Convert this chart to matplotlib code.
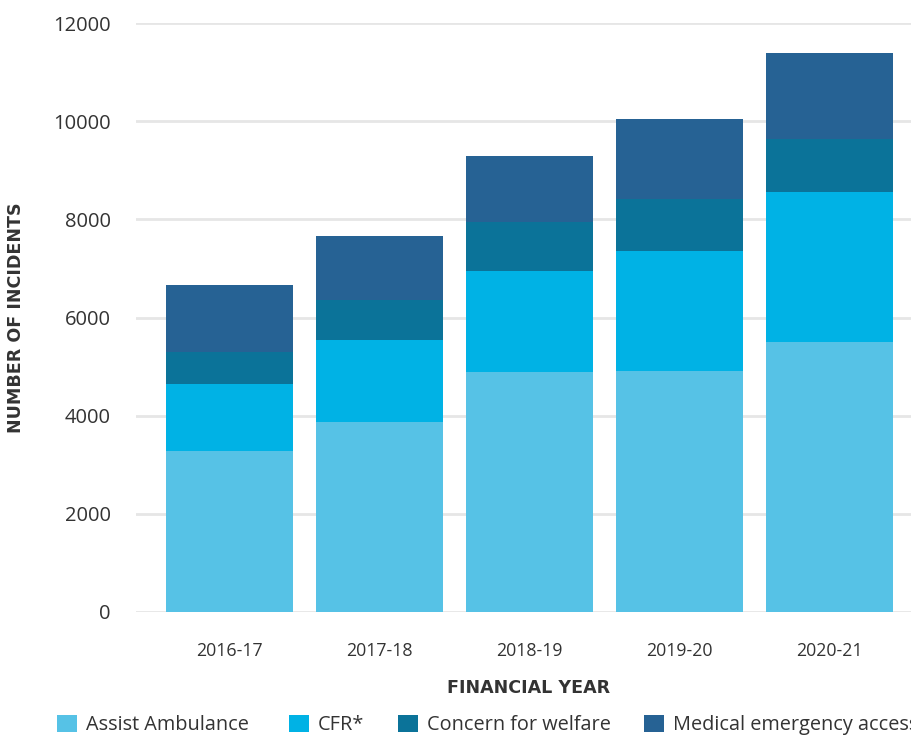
import matplotlib
matplotlib.use("Agg")
import matplotlib.pyplot as plt
from matplotlib.patches import Patch
import numpy as np

years = ["2016-17", "2017-18", "2018-19", "2019-20", "2020-21"]
assist = [3280, 3875, 4885, 4915, 5510]
cfr = [1370, 1675, 2055, 2433, 3044]
concern = [655, 797, 1001, 1077, 1082]
medical = [1349, 1308, 1348, 1620, 1757]
series_names = ["Assist Ambulance", "CFR*", "Concern for welfare", "Medical emergency access"]
yticks = [0, 2000, 4000, 6000, 8000, 10000, 12000]

colors = ["#56C2E6", "#00B2E5", "#0B7399", "#266294"]
text_col = "#333333"

plt.rcParams['font.family'] = ['Open Sans', 'DejaVu Sans']

W, H = 912, 735
fig = plt.figure(figsize=(W / 100, H / 100), dpi=100)
ax_left, ax_right = 136 / W, 1.0
ax_bottom, ax_top = 1 - 611.7 / H, 1 - 23.3 / H
ax = fig.add_axes([ax_left, ax_bottom, ax_right - ax_left, ax_top - ax_bottom])

x = np.arange(len(years))
bottom = np.zeros(len(years))
for vals, c in zip([assist, cfr, concern, medical], colors):
    ax.bar(x, vals, bottom=bottom, width=0.85, color=c, zorder=3, linewidth=0)
    bottom += np.array(vals)

ax.set_ylim(0, 12000)
ax.set_xlim(-0.623, 4.55)
ax.set_yticks(yticks)
ax.set_yticklabels([str(t) for t in yticks], fontsize=14.5, color=text_col)
ax.set_xticks(x)
ax.set_xticklabels(years, fontsize=12.8, color=text_col)
ax.tick_params(axis='y', length=0, pad=18)
ax.tick_params(axis='x', length=0, pad=22)
ax.grid(axis='y', color='#e6e6e6', linewidth=2, zorder=0)
ax.set_axisbelow(True)
for s in ax.spines.values():
    s.set_visible(False)

fig.text(16 / W, 1 - 318 / H, "NUMBER OF INCIDENTS", rotation=90, ha='center', va='center',
         fontsize=12.6, fontweight='bold', color=text_col, family='DejaVu Sans')
fig.text(529 / W, 1 - 688 / H, "FINANCIAL YEAR", ha='center', va='center',
         fontsize=12.6, fontweight='bold', color=text_col, family='DejaVu Sans')

leg_x = [57, 289, 398, 644]
for name, c, lx in zip(series_names, colors, leg_x):
    leg = fig.legend(handles=[Patch(facecolor=c, edgecolor='none')], labels=[name],
                     loc='center left', bbox_to_anchor=(lx / W, 1 - 725 / H),
                     frameon=False, fontsize=14.3, handlelength=1.0, handleheight=1.0,
                     handletextpad=0.45, borderpad=0, borderaxespad=0)
    for t in leg.get_texts():
        t.set_color(text_col)

fig.savefig("out.png", dpi=100)
